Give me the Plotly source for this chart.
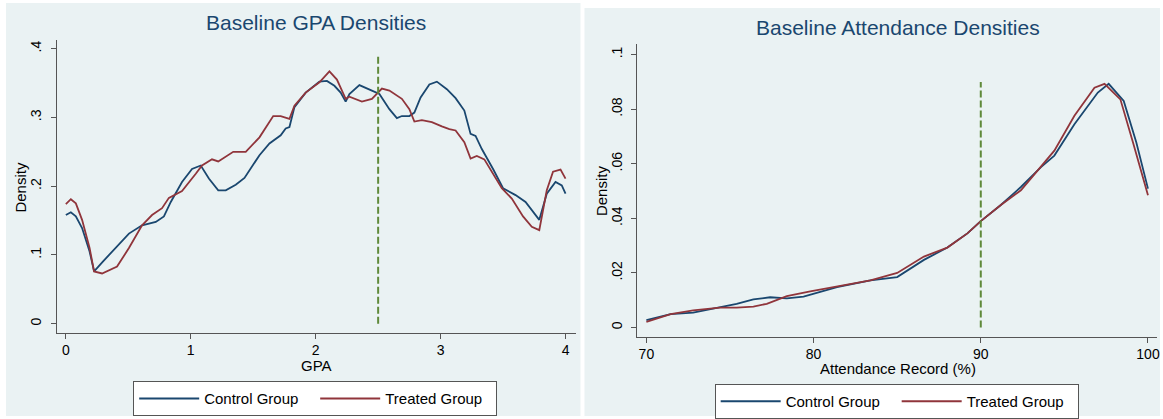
import plotly.graph_objects as go

# ---------------- data ----------------
gpa_control_x = [0.00, 0.04, 0.08, 0.13, 0.19, 0.226, 0.30, 0.40, 0.505, 0.61, 0.72, 0.785, 0.84, 0.93,
                 1.01, 1.08, 1.145, 1.22, 1.28, 1.36, 1.43, 1.55, 1.63, 1.72, 1.76, 1.79, 1.83, 1.92,
                 2.03, 2.09, 2.15, 2.20, 2.24, 2.27, 2.35, 2.45, 2.51, 2.59, 2.65, 2.69, 2.75, 2.79,
                 2.84, 2.91, 2.97, 3.05, 3.12, 3.19, 3.24, 3.28, 3.33, 3.42, 3.50, 3.60, 3.68, 3.79,
                 3.85, 3.92, 3.97, 4.00]
gpa_control_y = [0.158, 0.162, 0.156, 0.139, 0.105, 0.076, 0.091, 0.111, 0.131, 0.143, 0.148, 0.156, 0.177, 0.206,
                 0.225, 0.230, 0.211, 0.194, 0.194, 0.202, 0.212, 0.245, 0.262, 0.274, 0.284, 0.286, 0.315, 0.336,
                 0.352, 0.353, 0.346, 0.336, 0.323, 0.334, 0.347, 0.339, 0.334, 0.312, 0.299, 0.302, 0.302, 0.307,
                 0.329, 0.348, 0.352, 0.341, 0.328, 0.310, 0.276, 0.273, 0.254, 0.225, 0.197, 0.187, 0.177, 0.151,
                 0.189, 0.206, 0.201, 0.189]

gpa_treated_x = [0.00, 0.04, 0.08, 0.13, 0.19, 0.226, 0.29, 0.41, 0.505, 0.61, 0.69, 0.77, 0.825, 0.93,
                 1.04, 1.09, 1.17, 1.22, 1.34, 1.44, 1.55, 1.66, 1.72, 1.79, 1.83, 1.92, 2.03, 2.11,
                 2.17, 2.24, 2.27, 2.37, 2.45, 2.53, 2.59, 2.69, 2.75, 2.79, 2.85, 2.93, 3.01, 3.07,
                 3.12, 3.19, 3.24, 3.29, 3.35, 3.49, 3.57, 3.66, 3.73, 3.79, 3.85, 3.90, 3.96, 4.00]
gpa_treated_y = [0.174, 0.181, 0.175, 0.151, 0.110, 0.076, 0.073, 0.083, 0.110, 0.143, 0.158, 0.168, 0.183, 0.193,
                 0.218, 0.230, 0.239, 0.236, 0.250, 0.250, 0.271, 0.302, 0.302, 0.298, 0.317, 0.336, 0.351, 0.367,
                 0.355, 0.327, 0.330, 0.323, 0.327, 0.342, 0.339, 0.327, 0.312, 0.294, 0.296, 0.293, 0.287, 0.283,
                 0.281, 0.264, 0.240, 0.244, 0.239, 0.197, 0.182, 0.156, 0.141, 0.136, 0.194, 0.221, 0.224, 0.211]

att_control_x = [70, 71.45, 72.8, 74.4, 75.4, 76.4, 77.4, 78.4, 79.4, 81.4, 83.4, 85.0, 86.6, 88.0, 89.2,
                 90.0, 91.2, 92.4, 93.6, 94.4, 95.6, 97.0, 97.65, 98.55, 99.3, 100]
att_control_y = [0.0027, 0.0049, 0.0055, 0.0073, 0.0087, 0.0103, 0.0111, 0.0107, 0.0113, 0.0148, 0.0173,
                 0.0185, 0.0248, 0.0293, 0.0345, 0.0390, 0.0449, 0.0515, 0.0588, 0.0630, 0.0745, 0.0861,
                 0.0893, 0.0830, 0.0679, 0.0509]

att_treated_x = [70, 71.45, 72.8, 74.4, 75.4, 76.4, 77.2, 78.4, 79.8, 81.4, 83.4, 85.0, 86.6, 88.0, 89.2,
                 90.0, 91.2, 92.4, 93.6, 94.4, 95.6, 96.8, 97.4, 98.35, 99.1, 100]
att_treated_y = [0.0021, 0.0049, 0.0063, 0.0073, 0.0073, 0.0077, 0.0087, 0.0115, 0.0133, 0.0150, 0.0173,
                 0.0200, 0.0260, 0.0293, 0.0345, 0.0390, 0.0449, 0.0503, 0.0588, 0.0648, 0.0776, 0.0879,
                 0.0893, 0.0836, 0.0679, 0.0485]

gpa_ticks = [0, 1, 2, 3, 4]
gpa_dens_ticks = [0, 0.1, 0.2, 0.3, 0.4]
gpa_dens_labels = ["0", ".1", ".2", ".3", ".4"]
att_ticks = [70, 80, 90, 100]
att_dens_ticks = [0, 0.02, 0.04, 0.06, 0.08, 0.1]
att_dens_labels = ["0", ".02", ".04", ".06", ".08", ".1"]

gpa_cutoff = 2.5
gpa_cutoff_top = 0.39
att_cutoff = 90
att_cutoff_top = 0.09

series_names = ["Control Group", "Treated Group"]

# ---------------- style ----------------
W, H = 1163, 419
NAVY = "#1a476f"
MAROON = "#90353b"
GREEN = "#5f8a3a"
BG = "#eaf2f3"
AXC = "#555555"
FONT = "Liberation Sans, Arial, sans-serif"


def px(x):
    return x / W


def py(y):
    return 1 - y / H


fig = go.Figure()

fig.add_trace(go.Scatter(x=gpa_control_x, y=gpa_control_y, mode="lines", name=series_names[0],
                         line=dict(color=NAVY, width=1.8), xaxis="x", yaxis="y", legend="legend"))
fig.add_trace(go.Scatter(x=gpa_treated_x, y=gpa_treated_y, mode="lines", name=series_names[1],
                         line=dict(color=MAROON, width=1.8), xaxis="x", yaxis="y", legend="legend"))
fig.add_trace(go.Scatter(x=att_control_x, y=att_control_y, mode="lines", name=series_names[0],
                         line=dict(color=NAVY, width=1.8), xaxis="x2", yaxis="y2", legend="legend2"))
fig.add_trace(go.Scatter(x=att_treated_x, y=att_treated_y, mode="lines", name=series_names[1],
                         line=dict(color=MAROON, width=1.8), xaxis="x2", yaxis="y2", legend="legend2"))

shapes = [
    dict(type="rect", xref="paper", yref="paper", x0=px(6), x1=px(582), y0=py(419), y1=py(3),
         fillcolor=BG, line_width=0, layer="below"),
    dict(type="rect", xref="paper", yref="paper", x0=px(586), x1=px(1163), y0=py(419), y1=py(8),
         fillcolor=BG, line_width=0, layer="below"),
    dict(type="line", xref="x", yref="y", x0=gpa_cutoff, x1=gpa_cutoff, y0=0, y1=gpa_cutoff_top,
         line=dict(color=GREEN, width=2, dash="7px,3px")),
    dict(type="line", xref="x2", yref="y2", x0=att_cutoff, x1=att_cutoff, y0=0, y1=att_cutoff_top,
         line=dict(color=GREEN, width=2, dash="7px,3px")),
]

annotations = [
    dict(text="Baseline GPA Densities", x=px(317), y=py(23), xref="paper", yref="paper",
         showarrow=False, font=dict(size=21, color=NAVY, family=FONT), xanchor="center", yanchor="middle"),
    dict(text="Baseline Attendance Densities", x=px(900), y=py(28), xref="paper", yref="paper",
         showarrow=False, font=dict(size=21, color=NAVY, family=FONT), xanchor="center", yanchor="middle"),
    dict(text="GPA", x=px(317), y=py(368), xref="paper", yref="paper",
         showarrow=False, font=dict(size=15, color="#000000", family=FONT), xanchor="center", yanchor="middle"),
    dict(text="Attendance Record (%)", x=px(900), y=py(371), xref="paper", yref="paper",
         showarrow=False, font=dict(size=15, color="#000000", family=FONT), xanchor="center", yanchor="middle"),
    dict(text="Density", x=px(21), y=py(188), xref="paper", yref="paper", textangle=-90,
         showarrow=False, font=dict(size=15, color="#000000", family=FONT), xanchor="center", yanchor="middle"),
    dict(text="Density", x=px(603), y=py(192), xref="paper", yref="paper", textangle=-90,
         showarrow=False, font=dict(size=15, color="#000000", family=FONT), xanchor="center", yanchor="middle"),
]

axis_common = dict(showline=True, linecolor=AXC, linewidth=1, ticks="outside", ticklen=5,
                   tickcolor=AXC, tickwidth=1, zeroline=False,
                   tickfont=dict(size=14, color="#000000", family=FONT))

legend_common = dict(orientation="h", xanchor="center", yanchor="top",
                     bgcolor="white", bordercolor=AXC, borderwidth=1,
                     font=dict(size=15, color="#000000", family=FONT),
                     entrywidth=106, itemwidth=60)

fig.update_layout(
    width=W, height=H,
    margin=dict(l=0, r=0, t=0, b=0, pad=0),
    paper_bgcolor="white", plot_bgcolor="white",
    font=dict(family=FONT, color="#000000"),
    shapes=shapes, annotations=annotations,
    xaxis=dict(domain=[px(57), px(577)], range=[-0.072, 4.08], tickvals=gpa_ticks,
               showgrid=False, anchor="y", **axis_common),
    yaxis=dict(domain=[py(335), py(40)], range=[-0.013, 0.413], tickvals=gpa_dens_ticks,
               ticktext=gpa_dens_labels, tickangle=-90, showgrid=True, gridcolor=BG, gridwidth=1.5,
               anchor="x", ticklabelstandoff=4, **axis_common),
    xaxis2=dict(domain=[px(639), px(1160)], range=[69.46, 100.54], tickvals=att_ticks,
                showgrid=False, anchor="y2", **axis_common),
    yaxis2=dict(domain=[py(339), py(44)], range=[-0.0033, 0.104], tickvals=att_dens_ticks,
                ticktext=att_dens_labels, tickangle=-90, showgrid=True, gridcolor=BG, gridwidth=1.5,
                anchor="x2", ticklabelstandoff=4, **axis_common),
    legend=dict(x=px(316), y=py(384), **legend_common),
    legend2=dict(x=px(899), y=py(387), **legend_common),
    showlegend=True,
)

fig.write_html("out.html", config={"displayModeBar": False},
               post_script="document.body.style.margin='0px';")
